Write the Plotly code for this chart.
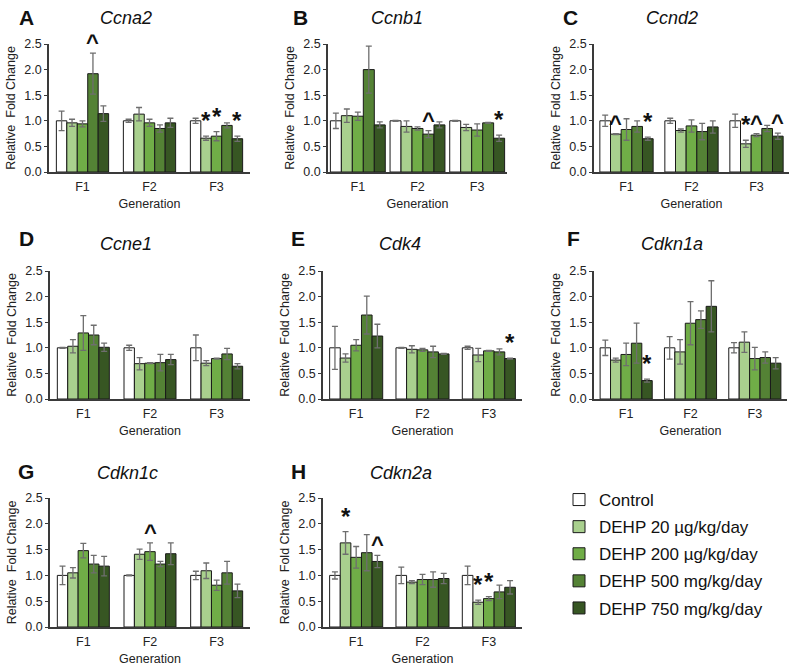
import plotly.graph_objects as go

# ---------------- data ----------------
generations = ["F1", "F2", "F3"]
series_names = ["Control", "DEHP 20 µg/kg/day", "DEHP 200 µg/kg/day",
                "DEHP 500 mg/kg/day", "DEHP 750 mg/kg/day"]
colors = ["#ffffff", "#a9d08e", "#70ad47", "#548235", "#375623"]

genes = ["Ccna2", "Ccnb1", "Ccnd2", "Ccne1", "Cdk4", "Cdkn1a", "Cdkn1c", "Cdkn2a"]
letters = ["A", "B", "C", "D", "E", "F", "G", "H"]

# means[generation][series]
ccna2_mean = [[1.00, 0.96, 0.94, 1.92, 1.14], [1.00, 1.13, 0.96, 0.85, 0.96], [1.00, 0.66, 0.70, 0.91, 0.65]]
ccna2_err = [[0.19, 0.07, 0.06, 0.40, 0.15], [0.03, 0.13, 0.07, 0.07, 0.09], [0.05, 0.04, 0.09, 0.05, 0.05]]
ccnb1_mean = [[1.00, 1.10, 1.09, 2.00, 0.92], [1.00, 0.89, 0.85, 0.74, 0.92], [1.00, 0.87, 0.82, 0.96, 0.66]]
ccnb1_err = [[0.15, 0.13, 0.08, 0.46, 0.06], [0.01, 0.11, 0.03, 0.07, 0.06], [0.01, 0.06, 0.12, 0.01, 0.06]]
ccnd2_mean = [[1.00, 0.74, 0.83, 0.89, 0.65], [1.00, 0.81, 0.90, 0.79, 0.88], [1.00, 0.55, 0.72, 0.85, 0.70]]
ccnd2_err = [[0.11, 0.01, 0.21, 0.11, 0.03], [0.05, 0.03, 0.12, 0.16, 0.12], [0.13, 0.07, 0.03, 0.06, 0.06]]
ccne1_mean = [[1.00, 1.03, 1.29, 1.25, 1.01], [1.00, 0.69, 0.70, 0.71, 0.77], [1.00, 0.70, 0.79, 0.88, 0.64]]
ccne1_err = [[0.01, 0.13, 0.34, 0.19, 0.08], [0.05, 0.12, 0.01, 0.16, 0.10], [0.25, 0.05, 0.01, 0.11, 0.05]]
cdk4_mean = [[1.00, 0.80, 1.05, 1.64, 1.23], [1.00, 0.97, 0.96, 0.92, 0.88], [1.00, 0.86, 0.94, 0.92, 0.79]]
cdk4_err = [[0.42, 0.08, 0.11, 0.37, 0.23], [0.01, 0.07, 0.03, 0.11, 0.01], [0.03, 0.13, 0.01, 0.06, 0.01]]
cdkn1a_mean = [[1.00, 0.76, 0.87, 1.09, 0.36], [1.00, 0.92, 1.48, 1.55, 1.81], [1.00, 1.11, 0.79, 0.81, 0.70]]
cdkn1a_err = [[0.15, 0.04, 0.22, 0.39, 0.03], [0.22, 0.24, 0.42, 0.17, 0.50], [0.10, 0.20, 0.22, 0.11, 0.11]]
cdkn1c_mean = [[1.00, 1.05, 1.48, 1.22, 1.18], [1.00, 1.41, 1.46, 1.22, 1.42], [1.00, 1.09, 0.81, 1.05, 0.70]]
cdkn1c_err = [[0.18, 0.10, 0.14, 0.17, 0.19], [0.01, 0.10, 0.17, 0.05, 0.21], [0.08, 0.15, 0.10, 0.22, 0.13]]
cdkn2a_mean = [[1.00, 1.63, 1.35, 1.44, 1.27], [1.00, 0.87, 0.92, 0.92, 0.94], [1.00, 0.48, 0.55, 0.68, 0.77]]
cdkn2a_err = [[0.07, 0.22, 0.21, 0.35, 0.12], [0.16, 0.03, 0.10, 0.15, 0.10], [0.18, 0.04, 0.04, 0.13, 0.13]]

means = [ccna2_mean, ccnb1_mean, ccnd2_mean, ccne1_mean, cdk4_mean, cdkn1a_mean, cdkn1c_mean, cdkn2a_mean]
errs = [ccna2_err, ccnb1_err, ccnd2_err, ccne1_err, cdk4_err, cdkn1a_err, cdkn1c_err, cdkn2a_err]

# significance marks: (panel index, generation index, series index, symbol)
sig_marks = [
    (0, 0, 3, "^"), (0, 2, 1, "*"), (0, 2, 2, "*"), (0, 2, 4, "*"),
    (1, 1, 3, "^"), (1, 2, 4, "*"),
    (2, 0, 1, "^"), (2, 0, 4, "*"), (2, 2, 1, "*"), (2, 2, 2, "^"), (2, 2, 4, "^"),
    (4, 2, 4, "*"),
    (5, 0, 4, "*"),
    (6, 1, 2, "^"),
    (7, 0, 1, "*"), (7, 0, 4, "^"), (7, 2, 1, "*"), (7, 2, 2, "*"),
]

# ---------------- layout (pixels) ----------------
W, H = 800, 669
x_px = [(49, 250), (328, 507), (594, 789), (50, 250), (323, 522), (594, 787), (50, 250), (323, 522)]
row_px = [(44, 172), (271, 399), (498, 627)]
group_frac = [0.78, 0.92, 0.82, 0.78, 0.80, 0.81, 0.78, 0.80]
letter_px = [(26, 17), (300, 17), (570, 17), (26, 238), (298, 238), (573, 238), (26, 471), (298, 471)]
title_px = [(126, 18), (397, 18), (672, 18), (126, 244), (400, 244), (672, 244), (127, 473), (401, 473)]

FONT = "Liberation Sans, Arial, sans-serif"
fig = go.Figure()
annotations = []
layout_axes = {}

for p in range(8):
    row = p // 3
    ax = "" if p == 0 else str(p + 1)
    xa, ya = "x" + ax, "y" + ax
    gw = group_frac[p]
    bw = gw / 5
    for s in range(5):
        fig.add_trace(go.Bar(
            x=[0, 1, 2],
            y=[means[p][g][s] for g in range(3)],
            width=bw,
            offset=-gw / 2 + s * bw,
            marker=dict(color=colors[s], line=dict(color="#1a1a1a", width=1)),
            error_y=dict(type="data", array=[errs[p][g][s] for g in range(3)],
                         color="#6e6e6e", thickness=1.3, width=3),
            name=series_names[s],
            legendgroup=series_names[s],
            showlegend=(p == 0),
            xaxis=xa, yaxis=ya,
        ))
    x0, x1 = x_px[p]
    y0, y1 = row_px[row]
    layout_axes["xaxis" + ax] = dict(
        domain=[x0 / W, x1 / W], anchor=ya, range=[-0.5, 2.5], automargin=False,
        tickvals=[0, 1, 2], ticktext=generations, showline=True,
        linecolor="#3a3a3a", linewidth=1.5, ticks="outside", ticklen=2, tickcolor="rgba(0,0,0,0)",
        showgrid=False, zeroline=False,
        tickfont=dict(size=12.5, color="#222", family=FONT),
        title=dict(text="Generation", font=dict(size=12.5, color="#222", family=FONT), standoff=6),
    )
    layout_axes["yaxis" + ax] = dict(
        domain=[1 - y1 / H, 1 - y0 / H], anchor=xa, range=[0, 2.5], dtick=0.5, automargin=False,
        tickformat=".1f", showline=True, linecolor="#3a3a3a", linewidth=1.5,
        ticks="outside", ticklen=3, tickcolor="#3a3a3a", showgrid=False, zeroline=False,
        tickfont=dict(size=12.5, color="#222", family=FONT),
        title=dict(text="Relative  Fold Change", font=dict(size=12.5, color="#222", family=FONT), standoff=6),
    )
    lx, ly = letter_px[p]
    annotations.append(dict(text="<b>%s</b>" % letters[p], x=lx / W, y=1 - ly / H, xref="paper", yref="paper",
                            showarrow=False, xanchor="center", yanchor="middle",
                            font=dict(size=21, color="#111", family=FONT)))
    tx, ty = title_px[p]
    annotations.append(dict(text="<i>%s</i>" % genes[p], x=tx / W, y=1 - ty / H, xref="paper", yref="paper",
                            showarrow=False, xanchor="center", yanchor="middle",
                            font=dict(size=18, color="#111", family=FONT)))

for (p, g, s, sym) in sig_marks:
    ax = "" if p == 0 else str(p + 1)
    gw = group_frac[p]
    bw = gw / 5
    xc = g - gw / 2 + (s + 0.5) * bw
    yt = means[p][g][s] + errs[p][g][s]
    annotations.append(dict(text="<b>%s</b>" % sym, x=xc, y=yt, xref="x" + ax, yref="y" + ax,
                            showarrow=False, xanchor="center", yanchor="bottom",
                            yshift=(-4 if sym == "^" else 0),
                            font=dict(size=(22 if sym == "^" else 24), color="#111", family=FONT)))

fig.update_layout(
    width=W, height=H, margin=dict(l=0, r=0, t=0, b=0, autoexpand=False),
    paper_bgcolor="white", plot_bgcolor="white",
    barmode="overlay",
    font=dict(family=FONT, color="#222"),
    annotations=annotations,
    legend=dict(x=559 / W, y=1 - 482 / H, xanchor="left", yanchor="top",
                font=dict(size=17, color="#111", family=FONT),
                tracegroupgap=2, itemwidth=30, bgcolor="rgba(0,0,0,0)"),
    **layout_axes,
)

fig.write_html("out.html", config={"displayModeBar": False},
               post_script="document.body.style.margin='0';")
